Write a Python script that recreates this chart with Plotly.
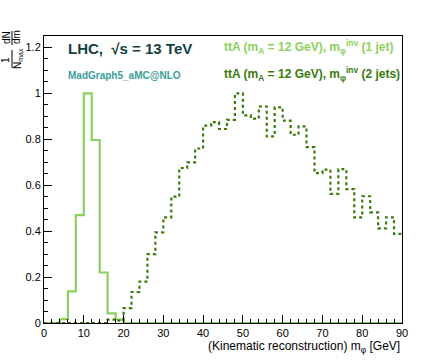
import numpy as np
import plotly.graph_objects as go

# 2 GeV bins from 0 to 90
bin_edges = list(range(0, 92, 2))

# normalised to max bin, 1 jet (light green, solid)
one_jet = [0, 0, 0.017, 0.138, 0.47, 1.0, 0.797, 0.22, 0.042, 0.015,
           0, 0, 0, 0, 0, 0, 0, 0, 0, 0,
           0, 0, 0, 0, 0, 0, 0, 0, 0, 0,
           0, 0, 0, 0, 0, 0, 0, 0, 0, 0,
           0, 0, 0, 0, 0]

# 2 jets (dark green, dotted)
two_jets = [0, 0, 0, 0, 0, 0, 0, 0, 0.015, 0.01,
            0.065, 0.135, 0.18, 0.30, 0.395, 0.46, 0.55, 0.675, 0.70, 0.76,
            0.86, 0.875, 0.845, 0.885, 1.0, 0.904, 0.89, 0.943, 0.813, 0.939,
            0.881, 0.82, 0.856, 0.766, 0.653, 0.668, 0.562, 0.67, 0.583, 0.46,
            0.552, 0.482, 0.412, 0.46, 0.388]

LIGHT = "#8dd05c"
DARK = "#3b7a0c"
FONT = "Liberation Sans, Arial, sans-serif"


def step(values):
    # histogram outline: each bin drawn flat between its edges
    return bin_edges, list(values) + [values[-1]]


fig = go.Figure()

x, y = step(one_jet)
fig.add_trace(go.Scatter(x=x, y=y, mode="lines", line_shape="hv",
                         line=dict(color=LIGHT, width=2.2), showlegend=False))
x, y = step(two_jets)
fig.add_trace(go.Scatter(x=x, y=y, mode="lines", line_shape="hv",
                         line=dict(color=DARK, width=2.2, dash="3px,3px"),
                         showlegend=False))

W, H = 446, 360
L, R, T, B = 44, 44, 36, 37
pw, ph = W - L - R, H - T - B


def px(xp):
    return (xp - L) / pw


def py(yp):
    return (H - B - yp) / ph


annots = [
    dict(text="<b>LHC,  \u221as = 13 TeV</b>", x=px(66), y=py(48),
         font=dict(size=15, color="#123f3f"), xanchor="left"),
    dict(text="<b>MadGraph5_aMC@NLO</b>", x=px(66), y=py(75),
         font=dict(size=10, color="#3a9e9a"), xanchor="left"),
    dict(text="<b>ttA (m<sub>A</sub> = 12 GeV), m<sub>\u03c6</sub><sup>inv</sup> (1 jet)</b>",
         x=px(222), y=py(47), font=dict(size=12, color=LIGHT), xanchor="left"),
    dict(text="<b>ttA (m<sub>A</sub> = 12 GeV), m<sub>\u03c6</sub><sup>inv</sup> (2 jets)</b>",
         x=px(222), y=py(74), font=dict(size=12, color=DARK), xanchor="left"),
    dict(text="(Kinematic reconstruction) m<sub>\u03c6</sub> [GeV]", x=1, y=py(347),
         font=dict(size=12, color="black"), xanchor="right"),
    # y-axis title as a stacked fraction, rotated
    dict(text="1", x=px(6), y=py(60), textangle=-90, font=dict(size=10, color="black")),
    dict(text="N<sub>max</sub>", x=px(18), y=py(58), textangle=-90, font=dict(size=10, color="black")),
    dict(text="dN", x=px(6), y=py(38), textangle=-90, font=dict(size=10, color="black")),
    dict(text="dm", x=px(17), y=py(37), textangle=-90, font=dict(size=10, color="black")),
]
for a in annots:
    a.update(xref="paper", yref="paper", showarrow=False, yanchor="middle")
    a.setdefault("xanchor", "center")
fig.update_layout(annotations=annots)

# fraction bars
for y0, y1 in [(50, 68), (31, 45)]:
    fig.add_shape(type="line", xref="paper", yref="paper",
                  x0=px(12), x1=px(12), y0=py(y0), y1=py(y1),
                  line=dict(color="black", width=1))

fig.update_xaxes(range=[0, 90], dtick=10, tick0=0, ticks="inside", ticklen=8,
                 tickcolor="black", showline=True, linecolor="black", linewidth=1,
                 mirror=True, showgrid=False, zeroline=False,
                 minor=dict(dtick=2, ticks="inside", ticklen=4, tickcolor="black"),
                 tickfont=dict(size=11, color="black", family=FONT))
fig.update_yaxes(range=[0, 1.25], dtick=0.2, tick0=0, ticks="inside", ticklen=8,
                 tickcolor="black", showline=True, linecolor="black", linewidth=1,
                 mirror=True, showgrid=False, zeroline=False,
                 minor=dict(dtick=0.05, ticks="inside", ticklen=4, tickcolor="black"),
                 tickfont=dict(size=11, color="black", family=FONT))

fig.update_layout(width=W, height=H, margin=dict(l=L, r=R, t=T, b=B),
                  paper_bgcolor="white", plot_bgcolor="white",
                  font=dict(family=FONT), showlegend=False)

# drop the default page margin so the figure sits at the window's corner
fig.write_html("out.html", config={"displayModeBar": False},
               post_script="document.body.style.margin='0';")
